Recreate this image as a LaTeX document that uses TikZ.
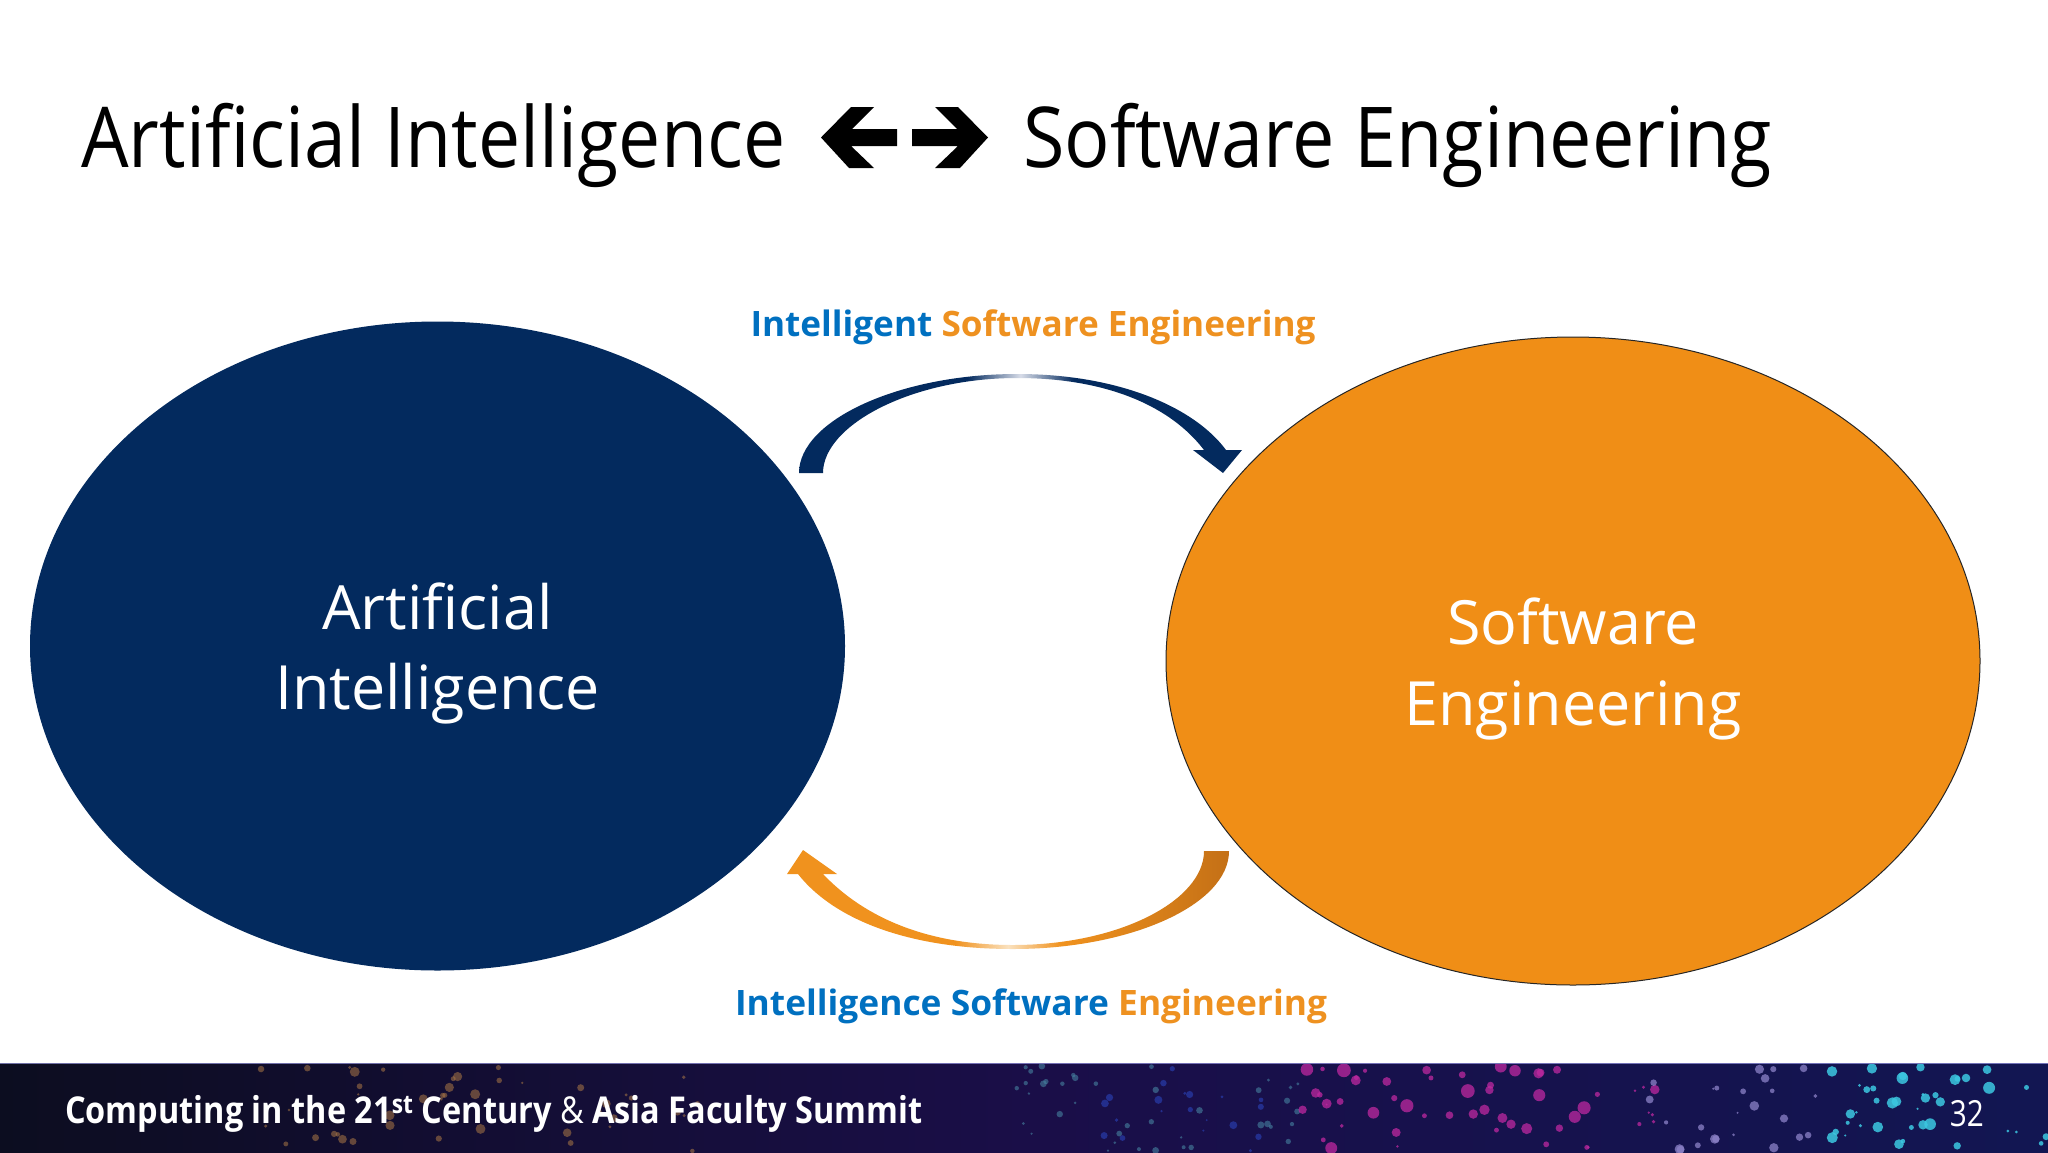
\documentclass[tikz,border=0pt]{standalone}
\usepackage{fontspec}
\setmainfont{Open Sans}
\usepackage{graphicx}
\usetikzlibrary{shapes.geometric}
\definecolor{navy}{RGB}{3,42,94}
\definecolor{navyLight}{RGB}{215,220,232}
\definecolor{orangeFill}{RGB}{240,142,22}
\definecolor{orangeA}{RGB}{240,146,30}
\definecolor{orangeDark}{RGB}{196,112,22}
\definecolor{orangeLight}{RGB}{250,225,190}
\definecolor{blueT}{RGB}{0,112,192}
\definecolor{orangeT}{RGB}{238,145,32}
\definecolor{footL}{RGB}{12,13,32}
\definecolor{footM}{RGB}{26,14,72}
\definecolor{footR}{RGB}{18,22,82}
\definecolor{dotgold}{RGB}{170,120,70}
\definecolor{dotpink}{RGB}{190,40,160}
\definecolor{dotlav}{RGB}{140,130,200}
\definecolor{dotcyan}{RGB}{60,200,225}
\definecolor{dotteal}{RGB}{70,130,160}
\definecolor{dotblue}{RGB}{40,60,170}
\pgfdeclarehorizontalshading{navyarc}{100bp}{color(0bp)=(navy); color(25bp)=(navy); color(44bp)=(navy); color(50bp)=(navyLight); color(56bp)=(navy); color(75bp)=(navy); color(100bp)=(navy)}
\pgfdeclarehorizontalshading{orangearc}{100bp}{color(0bp)=(orangeA); color(25bp)=(orangeA); color(44bp)=(orangeA); color(50bp)=(orangeLight); color(56bp)=(orangeA); color(75bp)=(orangeDark); color(100bp)=(orangeDark)}
\tikzset{
  titletext/.style={anchor=base west, inner sep=0, text=black, font=\fontsize{84}{100}\selectfont},
  bigtext/.style={anchor=base, inner sep=0, text=white, font=\fontsize{61}{76}\selectfont},
  labeltext/.style={anchor=base, inner sep=0, font=\bfseries\fontsize{35}{40}\selectfont},
  blob/.style={ellipse, inner sep=0},
}
\begin{document}
\begin{tikzpicture}[x=1pt,y=-1pt]
\useasboundingbox (0,0) rectangle (2048,1152);
\fill[white] (0,0) rectangle (2048,1152);

% title
\node[titletext] (tleft) at (81,167) {\resizebox{704pt}{\height}{Artificial Intelligence}};
\node[titletext] (tright) at (1023,167) {\resizebox{749pt}{\height}{Software Engineering}};
\fill[black] (897,129) -- (852,129) -- (874,107) -- (851,107) -- (821,137.5) -- (849,168) -- (874,168) -- (851,146) -- (897,146) -- cycle;
\fill[black] (912,129) -- (957,129) -- (935,107) -- (958,107) -- (988,137.5) -- (960,168) -- (935,168) -- (958,146) -- (912,146) -- cycle;

% ellipses
\node[blob, fill=navy, minimum width=815pt, minimum height=649pt] (ai) at (437.5,646) {};
\node[blob, fill=orangeFill, draw=black!85, line width=1pt, minimum width=814pt, minimum height=648pt] (se) at (1573,661) {};
\node[bigtext] (ai1) at (437.5,629) {Artificial};
\node[bigtext] (ai2) at (437.5,709) {Intelligence};
\node[bigtext] (se1) at (1573,644) {Software};
\node[bigtext] (se2) at (1573,725) {Engineering};

% top curved arrow (AI -> SE)
\shade[shading=navyarc] (799,473) .. controls (799,420) and (900,374) .. (1017,374)
  .. controls (1120,374) and (1195,408) .. (1226,450) -- (1242,450) -- (1223,473) -- (1193,450) -- (1204,450)
  .. controls (1172,408) and (1110,378) .. (1017,378)
  .. controls (912,378) and (823,425) .. (823,473) -- cycle;

% bottom curved arrow (SE -> AI)
\shade[shading=orangearc] (1229,851) .. controls (1229,905) and (1130,949) .. (1013,949)
  .. controls (900,949) and (830,915) .. (798,874) -- (787,874) -- (803,850) -- (837,874) -- (823,874)
  .. controls (860,913) and (920,945) .. (1013,945)
  .. controls (1120,945) and (1204,900) .. (1204,851) -- cycle;

% labels
\node[labeltext] (ltop) at (1033,336) {\resizebox{565pt}{\height}{\textcolor{blueT}{Intelligent} \textcolor{orangeT}{Software Engineering}}};
\node[labeltext] (lbot) at (1031,1015) {\resizebox{592pt}{\height}{\textcolor{blueT}{Intelligence Software} \textcolor{orangeT}{Engineering}}};

% footer
\shade[left color=footL, right color=footR, middle color=footM] (0,1063) rectangle (2048,1152);
\draw[white!70!blue, line width=1pt, opacity=0.6] (0,1063.5) -- (2048,1063.5);
\begin{scope}
\clip (0,1064) rectangle (2048,1152);
\pgfmathsetseed{42}
\foreach \i in {1,...,45}{
  \pgfmathsetmacro{\xx}{250+rnd*450}
  \pgfmathsetmacro{\yy}{1066+rnd*86}
  \pgfmathsetmacro{\rr}{1+rnd*4}
  \fill[dotgold, opacity=0.55] (\xx,\yy) circle[radius=\rr];
}
\foreach \i in {1,...,40}{
  \pgfmathsetmacro{\xx}{1000+rnd*300}
  \pgfmathsetmacro{\yy}{1066+rnd*86}
  \pgfmathsetmacro{\rr}{1+rnd*2.5}
  \fill[dotteal, opacity=0.6] (\xx,\yy) circle[radius=\rr];
}
\foreach \i in {1,...,20}{
  \pgfmathsetmacro{\xx}{1080+rnd*200}
  \pgfmathsetmacro{\yy}{1066+rnd*86}
  \pgfmathsetmacro{\rr}{1+rnd*3}
  \fill[dotblue, opacity=0.7] (\xx,\yy) circle[radius=\rr];
}
\foreach \i in {1,...,55}{
  \pgfmathsetmacro{\xx}{1300+rnd*360}
  \pgfmathsetmacro{\yy}{1066+rnd*86}
  \pgfmathsetmacro{\rr}{1+rnd*6}
  \fill[dotpink, opacity=0.75] (\xx,\yy) circle[radius=\rr];
}
\foreach \i in {1,...,25}{
  \pgfmathsetmacro{\xx}{1640+rnd*200}
  \pgfmathsetmacro{\yy}{1066+rnd*86}
  \pgfmathsetmacro{\rr}{1+rnd*4}
  \fill[dotlav, opacity=0.75] (\xx,\yy) circle[radius=\rr];
}
\foreach \i in {1,...,40}{
  \pgfmathsetmacro{\xx}{1830+rnd*218}
  \pgfmathsetmacro{\yy}{1066+rnd*86}
  \pgfmathsetmacro{\rr}{1+rnd*5}
  \fill[dotcyan, opacity=0.85] (\xx,\yy) circle[radius=\rr];
}
\end{scope}
\node[anchor=base west, inner sep=0, text=white, font=\bfseries\fontsize{37}{40}\selectfont] (foot) at (65,1123)
  {\resizebox{857pt}{\height}{Computing in the 21\textsuperscript{st} Century {\mdseries\&} Asia Faculty Summit}};
\node[anchor=base east, inner sep=0, text=white, font=\fontsize{36}{40}\selectfont] (pnum) at (1984,1126) {\resizebox{34pt}{\height}{32}};
\end{tikzpicture}
\end{document}
